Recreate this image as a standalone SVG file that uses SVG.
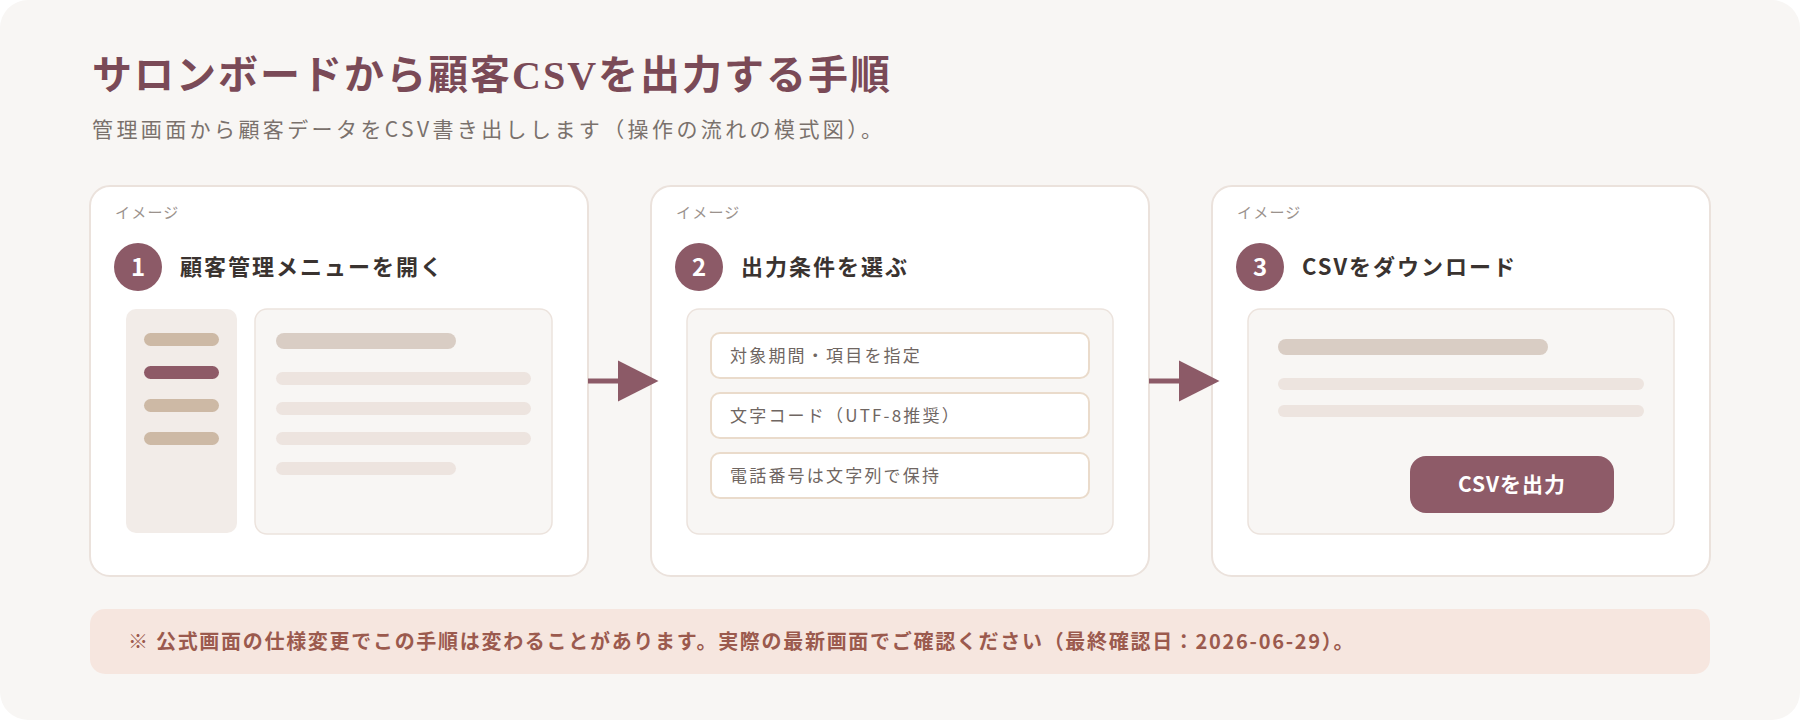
<svg xmlns="http://www.w3.org/2000/svg" width="1800" height="720" viewBox="0 0 1800 720">
<defs>
<style>
.jp{font-family:"Noto Sans CJK JP","Noto Sans",sans-serif;}
.title{font-family:"Liberation Serif","Noto Sans CJK JP",serif;font-weight:700;font-size:40px;fill:#7a4a57;letter-spacing:2px;}
.sub{font-size:21px;fill:#7a716c;letter-spacing:3.4px;}
.card{fill:#ffffff;stroke:#ebe2dc;stroke-width:2;}
.tag{font-size:15px;fill:#9b928d;letter-spacing:1.2px;}
.badge{fill:#8c5a67;}
.num{font-size:24px;font-weight:700;fill:#ffffff;}
.head{font-size:22px;font-weight:700;fill:#3a3330;letter-spacing:2px;}
.panel{fill:#f8f6f4;stroke:#ece3dd;stroke-width:1.5;}
.side{fill:#f2ece8;}
.nav{fill:#cdb9a5;}
.nav-on{fill:#8e5a67;}
.bar-dark{fill:#d9cdc4;}
.bar-light{fill:#ede4df;}
.opt{fill:#ffffff;stroke:#eadbcb;stroke-width:2;}
.opt-t{font-size:17px;fill:#6f6662;letter-spacing:2.2px;}
.btn{fill:#8e5b68;}
.btn-t{font-size:21px;font-weight:700;fill:#ffffff;letter-spacing:1px;}
.conn{stroke:#8c5a67;stroke-width:5;fill:none;}
.head-arrow{fill:#8c5a67;}
.note{fill:#f6e6df;}
.note-t{font-size:20px;font-weight:700;fill:#9b5a4e;letter-spacing:1.7px;}
</style>
</defs>
<rect x="0" y="0" width="1800" height="720" fill="#ffffff"/>
<rect x="0" y="0" width="1800" height="720" rx="28" fill="#f8f6f4"/>

<g id="header">
<text class="title" x="92" y="89">サロンボードから顧客CSVを出力する手順</text>
<text class="jp sub" x="92" y="137">管理画面から顧客データをCSV書き出しします（操作の流れの模式図）。</text>
</g>

<g id="step-1">
<rect class="card" x="90" y="186" width="498" height="390" rx="20"/>
<text class="jp tag" x="115" y="218">イメージ</text>
<circle class="badge" cx="138" cy="267" r="24"/>
<text class="jp num" x="138" y="275.5" text-anchor="middle">1</text>
<text class="jp head" x="180" y="275">顧客管理メニューを開く</text>
<rect class="side" x="126" y="309" width="111" height="224" rx="10"/>
<rect class="nav" x="144" y="333" width="75" height="13" rx="6.5"/>
<rect class="nav-on" x="144" y="366" width="75" height="13" rx="6.5"/>
<rect class="nav" x="144" y="399" width="75" height="13" rx="6.5"/>
<rect class="nav" x="144" y="432" width="75" height="13" rx="6.5"/>
<rect class="panel" x="255" y="309" width="297" height="225" rx="12"/>
<rect class="bar-dark" x="276" y="333" width="180" height="16" rx="8"/>
<rect class="bar-light" x="276" y="372" width="255" height="13" rx="6.5"/>
<rect class="bar-light" x="276" y="402" width="255" height="13" rx="6.5"/>
<rect class="bar-light" x="276" y="432" width="255" height="13" rx="6.5"/>
<rect class="bar-light" x="276" y="462" width="180" height="13" rx="6.5"/>
</g>

<g id="step-2">
<rect class="card" x="651" y="186" width="498" height="390" rx="20"/>
<text class="jp tag" x="676" y="218">イメージ</text>
<circle class="badge" cx="699" cy="267" r="24"/>
<text class="jp num" x="699" y="275.5" text-anchor="middle">2</text>
<text class="jp head" x="741" y="275">出力条件を選ぶ</text>
<rect class="panel" x="687" y="309" width="426" height="225" rx="12"/>
<rect class="opt" x="711" y="333" width="378" height="45" rx="9"/>
<text class="jp opt-t" x="730" y="362">対象期間・項目を指定</text>
<rect class="opt" x="711" y="393" width="378" height="45" rx="9"/>
<text class="jp opt-t" x="730" y="422">文字コード（UTF-8推奨）</text>
<rect class="opt" x="711" y="453" width="378" height="45" rx="9"/>
<text class="jp opt-t" x="730" y="482">電話番号は文字列で保持</text>
</g>

<g id="step-3">
<rect class="card" x="1212" y="186" width="498" height="390" rx="20"/>
<text class="jp tag" x="1237" y="218">イメージ</text>
<circle class="badge" cx="1260" cy="267" r="24"/>
<text class="jp num" x="1260" y="275.5" text-anchor="middle">3</text>
<text class="jp head" x="1302" y="275">CSVをダウンロード</text>
<rect class="panel" x="1248" y="309" width="426" height="225" rx="12"/>
<rect class="bar-dark" x="1278" y="339" width="270" height="16" rx="8"/>
<rect class="bar-light" x="1278" y="378" width="366" height="12" rx="6"/>
<rect class="bar-light" x="1278" y="405" width="366" height="12" rx="6"/>
<g id="export-button">
<rect class="btn" x="1410" y="456" width="204" height="57" rx="16"/>
<text class="jp btn-t" x="1512" y="492" text-anchor="middle">CSVを出力</text>
</g>
</g>

<g id="connectors">
<line class="conn" x1="588" y1="381" x2="620" y2="381"/>
<polygon class="head-arrow" points="618,360.5 658.5,381 618,401.5"/>
<line class="conn" x1="1149" y1="381" x2="1181" y2="381"/>
<polygon class="head-arrow" points="1179,360.5 1219.5,381 1179,401.5"/>
</g>

<g id="note">
<rect class="note" x="90" y="609" width="1620" height="65" rx="15"/>
<text class="jp note-t" x="128" y="649">※ 公式画面の仕様変更でこの手順は変わることがあります。実際の最新画面でご確認ください（最終確認日：2026-06-29）。</text>
</g>
</svg>
